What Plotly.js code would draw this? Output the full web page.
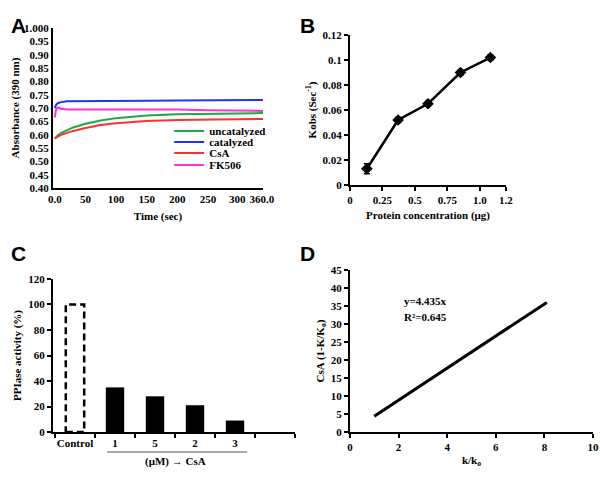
<!DOCTYPE html>
<html>
<head>
<meta charset="utf-8">
<script src="https://cdn.plot.ly/plotly-3.0.1.min.js"></script>
<style>
  html, body { margin: 0; padding: 0; background: #fff; }
  #myDiv { width: 600px; height: 477px; }
</style>
</head>
<body>
<div id="myDiv"></div>
<script>
// A - absorbance vs time
var time = [0, 2, 5, 10, 20, 30, 50, 75, 100, 150, 200, 250, 300, 340];
var uncatalyzed = [0.585, 0.592, 0.598, 0.606, 0.618, 0.627, 0.641, 0.653, 0.662, 0.672, 0.677, 0.679, 0.680, 0.681];
var catalyzed = [0.700, 0.712, 0.718, 0.722, 0.725, 0.725, 0.725, 0.725, 0.726, 0.727, 0.728, 0.729, 0.730, 0.730];
var csa = [0.585, 0.589, 0.593, 0.599, 0.607, 0.614, 0.625, 0.636, 0.643, 0.651, 0.655, 0.657, 0.658, 0.659];
var fk506 = [0.665, 0.695, 0.702, 0.697, 0.694, 0.694, 0.695, 0.695, 0.695, 0.694, 0.694, 0.692, 0.690, 0.689];
var timeTicks = [0, 50, 100, 150, 200, 250, 298, 338];
var timeTickText = ["0.0", "50", "100", "150", "200", "250", "300", "360.0"];
var absTicks = [0.40, 0.45, 0.50, 0.55, 0.60, 0.65, 0.70, 0.75, 0.80, 0.85, 0.90, 0.95, 1.00];
var absTickText = ["0.40", "0.45", "0.50", "0.55", "0.60", "0.65", "0.70", "0.75", "0.80", "0.85", "0.90", "0.95", "1.000"];

// B - Kobs vs protein
var protein = [0.13, 0.37, 0.60, 0.85, 1.08];
var kobs = [0.013, 0.052, 0.065, 0.090, 0.102];
var kobsErr = [0.004, 0.002, 0.002, 0.002, 0.002];
var proteinTicks = [0, 0.25, 0.5, 0.75, 1.0, 1.2];
var proteinTickText = ["0", "0.25", "0.5", "0.75", "1.0", "1.2"];

// C - PPIase activity
var ppiCats = ["Control", "1", "5", "2", "3"];
var ppiVals = [100, 35, 28, 21, 9];

// D - CsA
var kRatio = [1, 8.1];
var csaInh = [4.4, 36];

var serif = "Liberation Serif, Times New Roman, serif";
var tickF = {family: serif, size: 11, color: "#000", weight: "bold"};
var titleF = {family: serif, size: 11, color: "#000", weight: "bold"};

function ax(extra) {
  var a = {showline: true, linecolor: "#000", linewidth: 2, showgrid: false,
           zeroline: false, tickfont: tickF, ticks: "outside", ticklen: 4,
           tickwidth: 2, tickcolor: "#000", tickangle: 0, fixedrange: true};
  for (var k in extra) a[k] = extra[k];
  return a;
}

var data = [
  {x: time, y: uncatalyzed, name: "uncatalyzed", type: "scatter", mode: "lines",
   line: {color: "#1fa646", width: 2}, xaxis: "x", yaxis: "y", legend: "legend"},
  {x: time, y: catalyzed, name: "catalyzed", type: "scatter", mode: "lines",
   line: {color: "#2430ff", width: 2}, xaxis: "x", yaxis: "y", legend: "legend2"},
  {x: time, y: csa, name: "CsA", type: "scatter", mode: "lines",
   line: {color: "#ff3030", width: 2}, xaxis: "x", yaxis: "y", legend: "legend3"},
  {x: time, y: fk506, name: "FK506", type: "scatter", mode: "lines",
   line: {color: "#ff30d0", width: 2}, xaxis: "x", yaxis: "y", legend: "legend4"},

  {x: protein, y: kobs, type: "scatter", mode: "lines+markers", showlegend: false,
   line: {color: "#000", width: 2.5}, marker: {symbol: "diamond", size: 9, color: "#000"},
   error_y: {type: "data", array: kobsErr, color: "#000", thickness: 1.5, width: 3},
   xaxis: "x2", yaxis: "y2"},

  {x: ppiCats, y: ppiVals, type: "bar", showlegend: false, width: 0.46,
   marker: {color: ["rgba(0,0,0,0)", "#000", "#000", "#000", "#000"]},
   xaxis: "x3", yaxis: "y3"},

  {x: kRatio, y: csaInh, type: "scatter", mode: "lines", showlegend: false,
   line: {color: "#000", width: 3}, xaxis: "x4", yaxis: "y4"}
];

var legBase = {xanchor: "left", yanchor: "middle", bgcolor: "rgba(0,0,0,0)",
               font: {family: serif, size: 11, color: "#000", weight: "bold"},
               itemwidth: 30, x: 0.282};
function leg(y) { var l = {}; for (var k in legBase) l[k] = legBase[k]; l.y = y; return l; }

var layout = {
  width: 600, height: 477,
  margin: {l: 0, r: 0, t: 0, b: 0},
  paper_bgcolor: "#fff", plot_bgcolor: "#fff",
  showlegend: true,
  legend: leg(1 - 131 / 477),
  legend2: leg(1 - 142 / 477),
  legend3: leg(1 - 153 / 477),
  legend4: leg(1 - 165 / 477),
  xaxis: ax({domain: [0.0883, 0.4383], anchor: "y", range: [-3, 340], ticks: "",
             tickmode: "array", tickvals: timeTicks, ticktext: timeTickText,
             title: {text: "Time (sec)", font: titleF, standoff: 8}}),
  yaxis: ax({domain: [0.6059, 0.9413], anchor: "x", range: [0.40, 1.0], ticks: "",
             tickmode: "array", tickvals: absTicks, ticktext: absTickText,
             title: {text: "Absorbance (390 nm)", font: titleF, standoff: 2}}),
  xaxis2: ax({domain: [0.5833, 0.8433], anchor: "y2", range: [0, 1.2],
              tickmode: "array", tickvals: proteinTicks, ticktext: proteinTickText,
              title: {text: "Protein concentration (μg)", font: titleF, standoff: 6}}),
  yaxis2: ax({domain: [0.6122, 0.9266], anchor: "x2", range: [0, 0.12], dtick: 0.02,
              title: {text: "Kobs (Sec<sup>-1</sup>)", font: titleF, standoff: 4}}),
  xaxis3: ax({domain: [0.0883, 0.4917], anchor: "y3", type: "category",
              categoryorder: "array", categoryarray: ppiCats.concat([" "]),
              range: [-0.55, 5.5], tickson: "boundaries"}),
  yaxis3: ax({domain: [0.0943, 0.4151], anchor: "x3", range: [0, 120], dtick: 20,
              title: {text: "PPIase activity (%)", font: titleF, standoff: 4}}),
  xaxis4: ax({domain: [0.5833, 0.9883], anchor: "y4", range: [0, 10], dtick: 2,
              title: {text: "k/k<sub>o</sub>", font: titleF, standoff: 4}}),
  yaxis4: ax({domain: [0.0943, 0.434], anchor: "x4", range: [0, 45], dtick: 5,
              title: {text: "CsA (1-K/K<sub>o</sub>)", font: titleF, standoff: 4}}),
  shapes: [
    // dashed control bar outline
    {type: "rect", xref: "x3", yref: "y3", x0: -0.23, x1: 0.23, y0: 0, y1: ppiVals[0],
     line: {color: "#000", width: 2.5, dash: "7px,4px"}, fillcolor: "rgba(0,0,0,0)"},
    // bracket under CsA doses
    {type: "line", xref: "paper", yref: "paper", x0: 107 / 600, x1: 247 / 600,
     y0: 1 - 452 / 477, y1: 1 - 452 / 477, line: {color: "#555", width: 1}}
  ],
  annotations: [
    {text: "A", x: 9 / 600, y: 1 - 12 / 477},
    {text: "B", x: 307 / 600, y: 1 - 12 / 477},
    {text: "C", x: 9 / 600, y: 1 - 253 / 477},
    {text: "D", x: 307 / 600, y: 1 - 254 / 477}
  ].map(function (a) {
    a.xref = "paper"; a.yref = "paper"; a.showarrow = false;
    a.font = {family: "Liberation Sans, Arial, sans-serif", size: 21, color: "#000", weight: "bold"};
    return a;
  }).concat([
    {text: "(μM) → CsA", xref: "paper", yref: "paper", x: 143 / 600, y: 1 - 470 / 477,
     showarrow: false, font: titleF},
    {text: "y=4.435x", xref: "paper", yref: "paper", x: 449 / 600, y: 1 - 301 / 477,
     showarrow: false, font: titleF},
    {text: "R²=0.645", xref: "paper", yref: "paper", x: 449 / 600, y: 1 - 317 / 477,
     showarrow: false, font: titleF}
  ])
};

Plotly.newPlot("myDiv", data, layout, {displayModeBar: false, staticPlot: true});
</script>
</body>
</html>
